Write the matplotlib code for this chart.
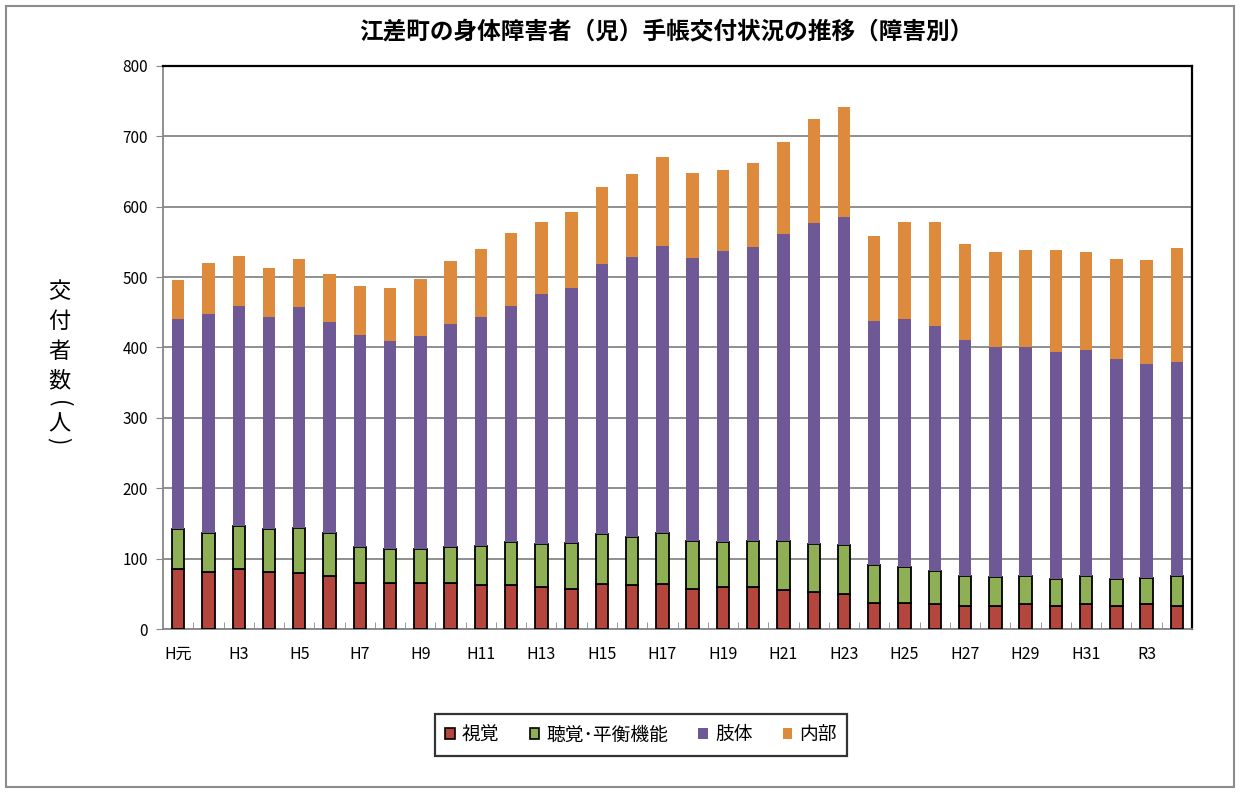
import numpy as np
import matplotlib.pyplot as plt
from matplotlib.patches import Patch, Rectangle

plt.rcParams['font.family'] = ['Noto Sans CJK JP', 'DejaVu Sans']

years = ['H元'] + [f'H{i}' for i in range(2, 32)] + ['R2', 'R3', 'R4']

visual = [85, 81, 85, 81, 80, 75, 65, 65, 65, 65, 62, 62, 59, 57, 64, 62, 64,
          57, 59, 60, 55, 52, 50, 37, 37, 35, 33, 32, 35, 32, 36, 33, 35, 33]
hearing = [57, 55, 61, 61, 63, 61, 52, 49, 49, 52, 56, 61, 62, 65, 71, 69, 72,
           68, 64, 65, 70, 69, 69, 54, 51, 48, 42, 42, 40, 39, 39, 38, 38, 42]
limb = [298, 311, 313, 301, 314, 300, 301, 295, 302, 316, 326, 336, 355, 363, 384, 397, 408,
        402, 414, 418, 436, 456, 466, 346, 353, 348, 335, 327, 326, 322, 322, 312, 303, 305]
internal = [56, 73, 71, 70, 69, 68, 69, 75, 81, 90, 96, 103, 102, 107, 109, 119, 126,
            121, 115, 119, 131, 148, 157, 122, 138, 148, 137, 134, 137, 146, 139, 143, 149, 161]

series_names = ['視覚', '聴覚･平衡機能', '肢体', '内部']
colors = ['#B4463E', '#8FAF55', '#6F5896', '#DE8A3C']

fig = plt.figure(figsize=(12.4, 7.92), dpi=100)
fig.patches.append(Rectangle((0.005, 0.006), 0.99, 0.987, transform=fig.transFigure,
                             fill=False, edgecolor='#8c8c8c', lw=1.5))
ax = fig.add_axes([0.1315, 0.2058, 0.8298, 0.7109])

x = np.arange(len(years))
w = 0.41
bottom = np.zeros(len(years))
for vals, name, c in zip([visual, hearing, limb, internal], series_names, colors):
    edged = name in ('視覚', '聴覚･平衡機能')
    ax.bar(x, vals, w, bottom=bottom, color=c,
           edgecolor='black' if edged else c, linewidth=1.3 if edged else 0, zorder=3)
    bottom += np.array(vals)

ax.set_xlim(-0.5, len(years) - 0.5)
ax.set_ylim(0, 800)
ax.set_yticks(np.arange(0, 801, 100))
ax.yaxis.grid(True, color='#878787', lw=1.3, zorder=0)

ax.set_xticks(x[::2])
ax.set_xticklabels(years[::2], fontsize=11.5)
ax.set_xticks(np.arange(0.5, len(years) - 1, 1), minor=True)
ax.tick_params(axis='x', which='major', length=0, pad=12)
ax.tick_params(axis='x', which='minor', direction='in', length=5, color='#878787')
ax.tick_params(axis='y', length=5, color='#878787', labelsize=11, pad=6)

for s in ['top', 'right']:
    ax.spines[s].set_color('black')
    ax.spines[s].set_linewidth(1.6)
for s in ['left', 'bottom']:
    ax.spines[s].set_color('#878787')
    ax.spines[s].set_linewidth(1.3)

fig.text(0.537, 0.96, '江差町の身体障害者（児）手帳交付状況の推移（障害別）',
         ha='center', va='center', fontsize=17, fontweight='bold')

# vertical y label, one character per line; brackets turned sideways
ylab_chars = ['交', '付', '者', '数', '(', '人', ')']
ylab_step = [0, 30, 30, 29, 23, 20, 17]
ypix = 292
for ch, step in zip(ylab_chars, ylab_step):
    ypix += step
    rot = -90 if ch in '()' else 0
    fig.text(59 / 1240, 1 - ypix / 792, ch, ha='center', va='center',
             fontsize=16, rotation=rot, rotation_mode='anchor')

handles = [Patch(facecolor=c, edgecolor='black' if i < 2 else c, lw=1.2 if i < 2 else 0)
           for i, c in enumerate(colors)]
leg = fig.legend(handles, series_names, loc='center', bbox_to_anchor=(0.517, 0.072),
                 ncol=4, fontsize=13.5, frameon=True, fancybox=False,
                 handlelength=0.5, handleheight=0.5, handletextpad=0.4,
                 columnspacing=1.6, borderpad=0.55, borderaxespad=0)
leg.get_frame().set_edgecolor('black')
leg.get_frame().set_linewidth(1.6)

fig.savefig('out.png', dpi=100)
